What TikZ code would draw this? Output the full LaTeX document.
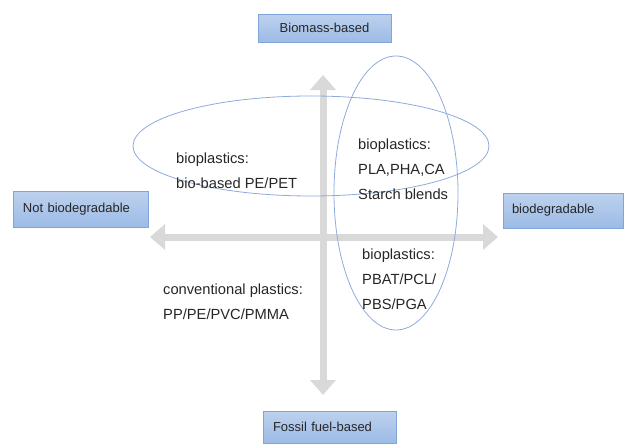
\documentclass[tikz,border=0pt]{standalone}
\usepackage{fontspec}
\setmainfont{Liberation Sans}
\usetikzlibrary{arrows.meta}

\definecolor{axisgray}{HTML}{D9D9D9}
\definecolor{ringblue}{HTML}{8FAADC}
\definecolor{boxtop}{HTML}{BDD1EE}
\definecolor{boxbot}{HTML}{9CBBE6}
\definecolor{boxedge}{HTML}{7FA5DB}

\tikzset{
  axisbox/.style={draw=boxedge, line width=0.8pt, top color=boxtop, bottom color=boxbot,
    inner ysep=0pt, font=\fontsize{13}{15}\selectfont, text=black!85},
  axisline/.style={draw=axisgray, line width=7pt,
    {Triangle[width=25pt,length=15pt]}-{Triangle[width=25pt,length=15pt]}},
  ring/.style={draw=ringblue, line width=0.8pt},
  plastext/.style={anchor=base west, inner sep=0pt, align=left,
    font=\fontsize{14.7}{25}\selectfont, text=black!85},
}

\begin{document}
\begin{tikzpicture}[x=1pt, y=-1pt]
\useasboundingbox (0,0) rectangle (640,447);

\coordinate (ytop) at (323,75);
\coordinate (ybot) at (323,395);
\coordinate (xleft) at (150,237);
\coordinate (xright) at (498,237);
\draw[axisline] (xleft) -- (xright);
\draw[axisline] (ybot) -- (ytop);

\node[axisbox, minimum width=133pt, minimum height=28pt] (biomass) at (324.5,28) {Biomass-based};
\node[axisbox, text width=115pt, inner xsep=10pt, minimum height=36pt] (notbio) at (80.5,209) {Not biodegradable};
\node[axisbox, text width=102pt, inner xsep=9pt, minimum height=35pt] (biodeg) at (563,210.5) {biodegradable};
\node[axisbox, text width=113pt, inner xsep=10pt, minimum height=32pt] (fossil) at (329.5,427) {Fossil fuel-based};

\draw[ring] (311,146) ellipse [x radius=178pt, y radius=50pt];
\draw[ring] (396,193) ellipse [x radius=62pt, y radius=137pt];

% base anchor sits on the last line
\node[plastext] (biobased) at (176,188) {bioplastics:\\bio-based PE/PET};
\node[plastext] (biotop) at (358,199) {bioplastics:\\PLA,PHA,CA\\Starch blends};
\node[plastext] (biobot) at (362,309) {bioplastics:\\PBAT/PCL/\\PBS/PGA};
\node[plastext] (conv) at (163,319) {conventional plastics:\\PP/PE/PVC/PMMA};

\end{tikzpicture}
\end{document}
